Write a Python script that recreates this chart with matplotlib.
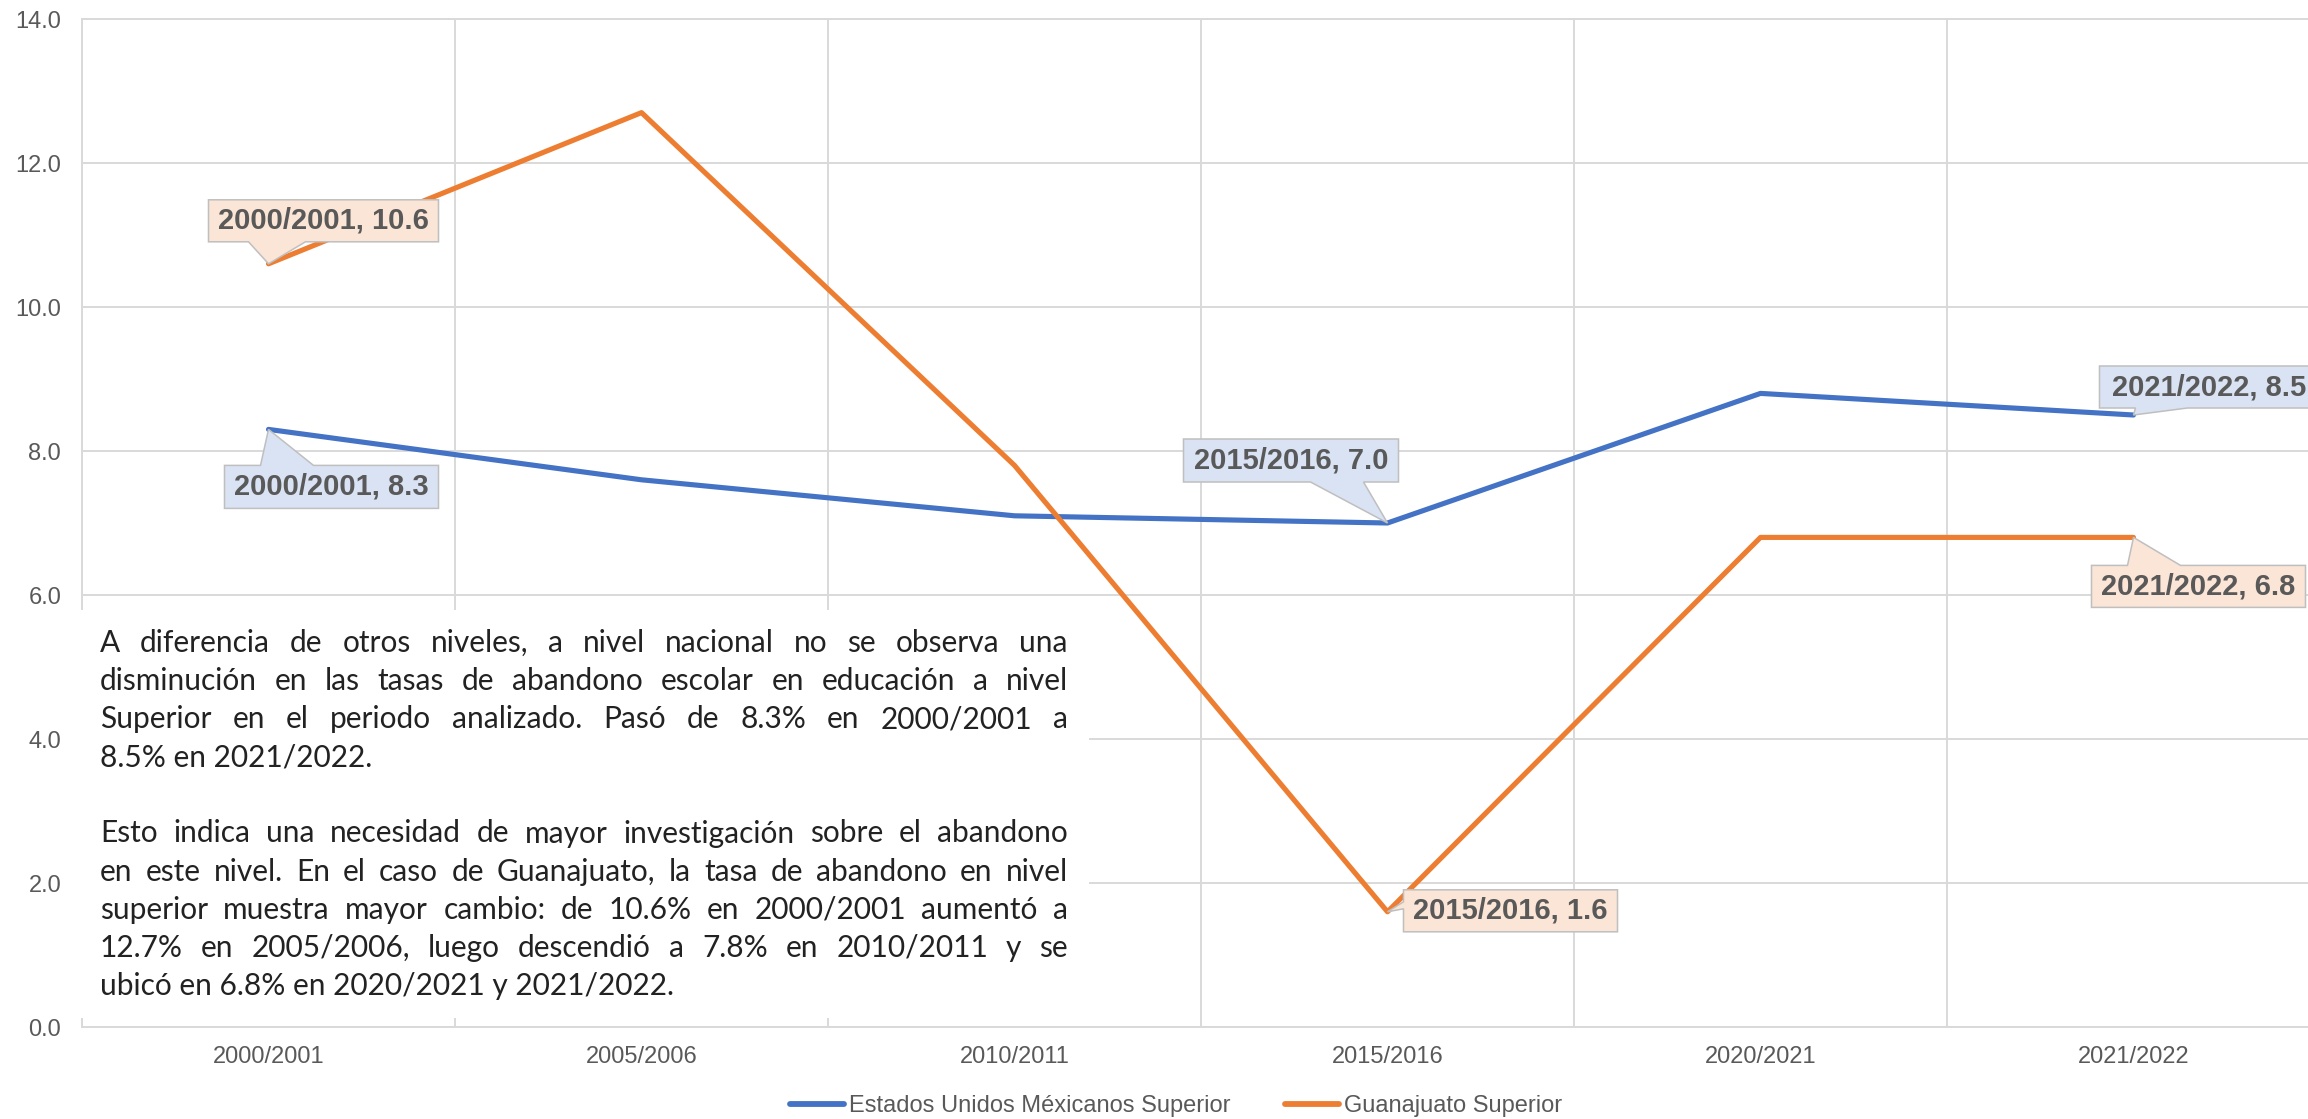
import matplotlib
matplotlib.use("Agg")
import matplotlib.pyplot as plt
from matplotlib.patches import Polygon, Rectangle
import numpy as np

# datos
ciclos = ["2000/2001", "2005/2006", "2010/2011", "2015/2016", "2020/2021", "2021/2022"]
nacional = [8.3, 7.6, 7.1, 7.0, 8.8, 8.5]
guanajuato = [10.6, 12.7, 7.8, 1.6, 6.8, 6.8]
nombres = ["Estados Unidos Méxicanos Superior", "Guanajuato Superior"]
y_ticks = [0, 2, 4, 6, 8, 10, 12, 14]

parrafo = [
    "A diferencia de otros niveles, a nivel nacional no se observa una",
    "disminución en las tasas de abandono escolar en educación a nivel",
    "Superior en el periodo analizado. Pasó de 8.3% en 2000/2001 a",
    "8.5% en 2021/2022.",
    "",
    "Esto indica una necesidad de mayor investigación sobre el abandono",
    "en este nivel. En el caso de Guanajuato, la tasa de abandono en nivel",
    "superior muestra mayor cambio: de 10.6% en 2000/2001 aumentó a",
    "12.7% en 2005/2006, luego descendió a 7.8% en 2010/2011 y se",
    "ubicó en 6.8% en 2020/2021 y 2021/2022.",
]
ultimas = [3, 9]  # lineas sin justificar

AZUL = "#4472C4"
NARANJA = "#ED7D31"
GRIS = "#595959"
REJILLA = "#D9D9D9"

W, H = 2308, 1119
plt.rcParams["font.family"] = ["Liberation Sans", "DejaVu Sans"]

fig = plt.figure(figsize=(W / 100, H / 100), dpi=100)
ax = fig.add_axes([82 / W, 1 - 1027 / H, 2238 / W, 1008 / H])

x = np.arange(len(ciclos))
ax.plot(x, nacional, color=AZUL, lw=3.7, solid_joinstyle="round", solid_capstyle="round", zorder=3, label=nombres[0])
ax.plot(x, guanajuato, color=NARANJA, lw=3.7, solid_joinstyle="round", solid_capstyle="round", zorder=3, label=nombres[1])

ax.set_xlim(-0.5, len(ciclos) - 0.5)
ax.set_ylim(0, 14)
ax.set_xticks(x)
ax.set_xticklabels(ciclos)
ax.set_xticks(np.arange(-0.5, len(ciclos), 1), minor=True)
ax.set_yticks(y_ticks)
ax.set_yticklabels(["%.1f" % v for v in y_ticks])
ax.tick_params(axis="both", which="both", length=0, labelsize=17, labelcolor=GRIS)
ax.tick_params(axis="y", pad=15)
ax.tick_params(axis="x", pad=14)
ax.grid(axis="y", which="major", color=REJILLA, lw=1.4)
ax.grid(axis="x", which="minor", color=REJILLA, lw=1.4)
for lado in ["left", "top", "bottom"]:
    ax.spines[lado].set_color(REJILLA)
    ax.spines[lado].set_linewidth(1.4)
ax.spines["right"].set_visible(False)
ax.set_axisbelow(True)

# etiquetas tipo globo: caja (izq, der, arriba, abajo) y cola, en pixeles respecto al punto
globos = [
    (nacional, 0, "#DAE3F3", (-44, 170, 36, 79), ("top", -8, 45)),
    (nacional, 3, "#DAE3F3", (-204, 11, -84, -41), ("bottom", -77, -24)),
    (nacional, 5, "#DAE3F3", (-34, 185, -49, -7), ("bottom", 2, 54)),
    (guanajuato, 0, "#FBE5D6", (-60, 170, -64, -22), ("bottom", -20, 37)),
    (guanajuato, 3, "#FBE5D6", (16, 230, -22, 20), ("left", -10, -3)),
    (guanajuato, 5, "#FBE5D6", (-42, 172, 28, 70), ("top", -6, 47)),
]

inv = ax.transData.inverted()
for serie, i, relleno, caja, cola in globos:
    l, r, t, b = caja
    lado, a, c = cola
    if lado == "top":
        pts = [(l, t), (a, t), (0, 0), (c, t), (r, t), (r, b), (l, b)]
    elif lado == "bottom":
        pts = [(l, t), (r, t), (r, b), (c, b), (0, 0), (a, b), (l, b)]
    else:
        pts = [(l, t), (r, t), (r, b), (l, b), (l, c), (0, 0), (l, a)]
    px, py = ax.transData.transform((x[i], serie[i]))
    verts = inv.transform([(px + dx, py - dy) for dx, dy in pts])
    ax.add_patch(Polygon(verts, closed=True, facecolor=relleno, edgecolor="#BFBFBF",
                         lw=1.1, zorder=5, clip_on=False))
    tx, ty = inv.transform((px + (l + r) / 2, py - (t + b) / 2))
    ax.text(tx, ty, "%s, %.1f" % (ciclos[i], serie[i]), ha="center", va="center",
            fontsize=21, fontweight="bold", color=GRIS, zorder=6, clip_on=False)

# leyenda
fig.legend(loc="center", bbox_to_anchor=(1176 / W, 1 - 1106 / H), ncol=2, frameon=False,
           fontsize=17, labelcolor=GRIS, handlelength=2.3, handletextpad=0.2, columnspacing=2.3)
for ln in fig.legends[0].get_lines():
    ln.set_linewidth(4.2)

# cuadro de texto blanco
fig.patches.append(Rectangle((70 / W, 1 - 1018 / H), (1089 - 70) / W, (1018 - 610) / H,
                             transform=fig.transFigure, facecolor="white", edgecolor="none", zorder=2))

# parrafo justificado
renderer = fig.canvas.get_renderer()
x0, x1 = 100, 1068
base0, paso = 652, 38.1
estilo = dict(fontsize=21.5, family=["Lato", "DejaVu Sans"], color="#222222", va="baseline", zorder=4)
for k, linea in enumerate(parrafo):
    if not linea:
        continue
    yb = 1 - (base0 + k * paso) / H
    if k in ultimas:
        fig.text(x0 / W, yb, linea, ha="left", **estilo)
        continue
    palabras = linea.split(" ")
    textos = [fig.text(0, yb, p, ha="left", **estilo) for p in palabras]
    anchos = [t.get_window_extent(renderer).width for t in textos]
    hueco = (x1 - x0 - sum(anchos)) / (len(palabras) - 1)
    pos = x0
    for t, w in zip(textos, anchos):
        t.set_x(pos / W)
        pos += w + hueco

fig.savefig("out.png", dpi=100)
